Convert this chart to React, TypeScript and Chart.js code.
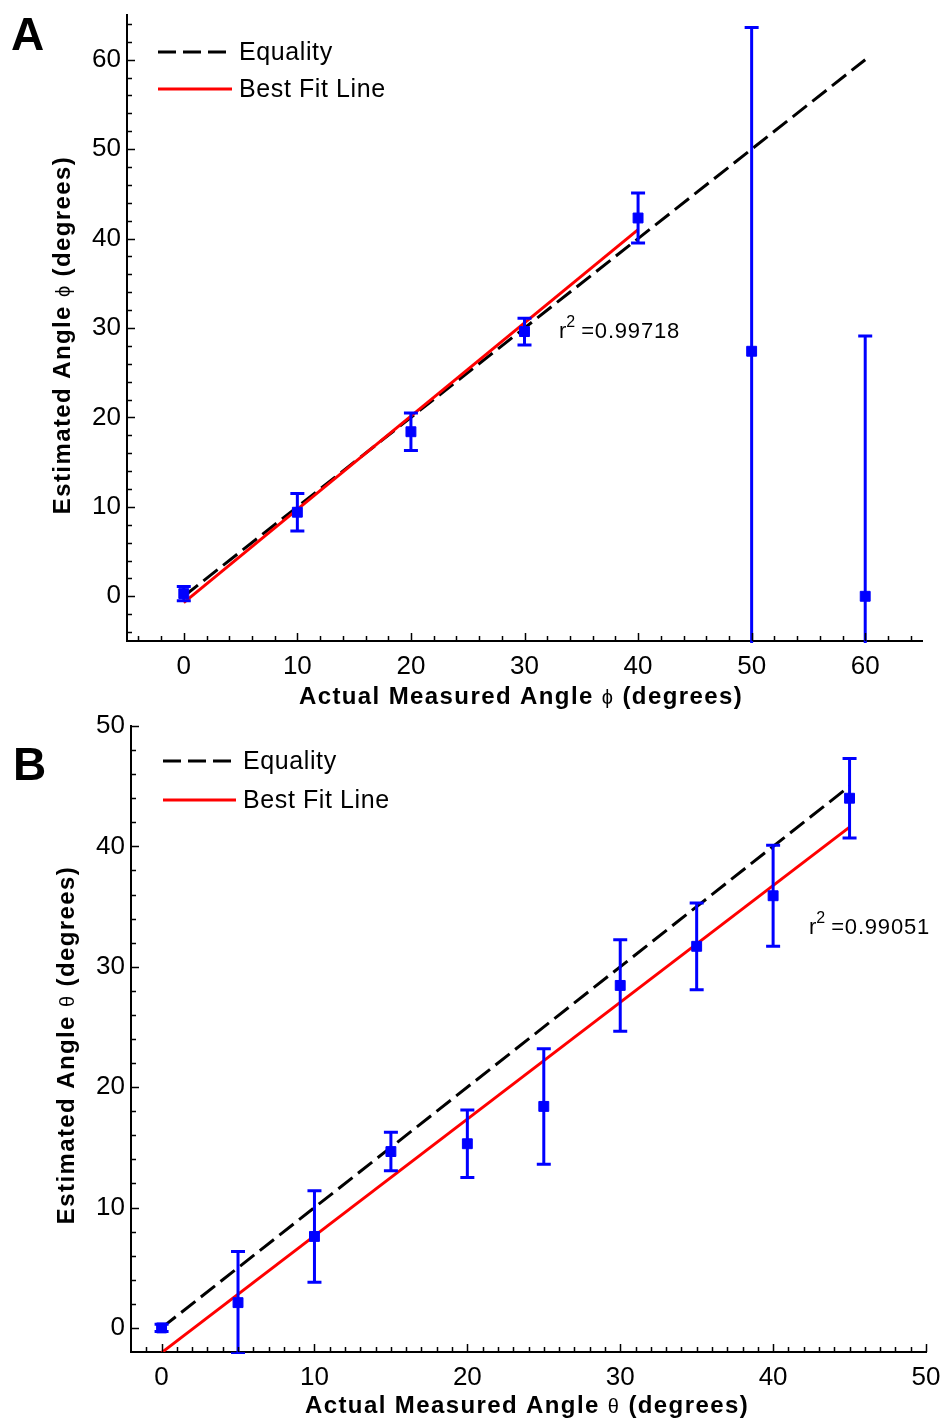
import React, { useEffect, useRef } from "react";
import { Chart, registerables } from "chart.js";

Chart.register(...registerables);

const FONT = "'Liberation Sans', Arial, Helvetica, sans-serif";

// ---------- Panel A data ----------
const aActual = [0, 10, 20, 30, 40, 50, 60];
const aEstimated = [0.3, 9.4, 18.4, 29.6, 42.3, 27.4, 0];
const aError = [0.8, 2.1, 2.1, 1.5, 2.8, 36.2, 29.1];
const aEqualityX = [0, 60];
const aEqualityY = [0, 60];
const aFitX = [0, 40];
const aFitY = [-0.7, 41.0];
const aXTicks = [0, 10, 20, 30, 40, 50, 60];
const aYTicks = [0, 10, 20, 30, 40, 50, 60];
const aR2 = "0.99718";

// ---------- Panel B data ----------
const bActual = [0, 5, 10, 15, 20, 25, 30, 35, 40, 45];
const bEstimated = [0, 2.1, 7.6, 14.65, 15.3, 18.4, 28.45, 31.7, 35.9, 44.0];
const bError = [0.3, 4.25, 3.8, 1.6, 2.8, 4.8, 3.8, 3.6, 4.2, 3.3];
const bEqualityX = [0, 45];
const bEqualityY = [0, 45];
const bFitX = [0, 45];
const bFitY = [-2.05, 41.6];
const bXTicks = [0, 10, 20, 30, 40, 50];
const bYTicks = [0, 10, 20, 30, 40, 50];
const bR2 = "0.99051";

type Seg = { text: string; font: string };

type Panel = {
  letter: string;
  xs: number[];
  ys: number[];
  errs: number[];
  eqX: number[];
  eqY: number[];
  fitX: number[];
  fitY: number[];
  xMin: number;
  xMax: number;
  yMin: number;
  yMax: number;
  xTicks: number[];
  yTicks: number[];
  xMinorStep: number;
  yMinorStep: number;
  r2: string;
  sym: string;
  canvasTop: number;
  height: number;
  area: { left: number; right: number; top: number; bottom: number };
  letterPos: [number, number, number];
  legend: { x1: number; x2: number; tx: number; y1: number; y2: number };
  xTitle: [number, number];
  yTitle: [number, number];
  r2Pos: [number, number];
};

const W = 946;

const panels: Panel[] = [
  {
    letter: "A",
    xs: aActual,
    ys: aEstimated,
    errs: aError,
    eqX: aEqualityX,
    eqY: aEqualityY,
    fitX: aFitX,
    fitY: aFitY,
    xMin: -5,
    xMax: 65,
    yMin: -5,
    yMax: 65,
    xTicks: aXTicks,
    yTicks: aYTicks,
    xMinorStep: 2,
    yMinorStep: 2,
    r2: aR2,
    sym: "\u03D5",
    canvasTop: 0,
    height: 712,
    area: { left: 127, right: 922, top: 15, bottom: 641 },
    letterPos: [11, 50, 46],
    legend: { x1: 158, x2: 232, tx: 239, y1: 52, y2: 89 },
    xTitle: [521, 704],
    yTitle: [70, 335],
    r2Pos: [559, 338],
  },
  {
    letter: "B",
    xs: bActual,
    ys: bEstimated,
    errs: bError,
    eqX: bEqualityX,
    eqY: bEqualityY,
    fitX: bFitX,
    fitY: bFitY,
    xMin: -2,
    xMax: 50,
    yMin: -2,
    yMax: 50,
    xTicks: bXTicks,
    yTicks: bYTicks,
    xMinorStep: 1,
    yMinorStep: 2,
    r2: bR2,
    sym: "\u03B8",
    canvasTop: 712,
    height: 713,
    area: { left: 131, right: 926, top: 14, bottom: 640 },
    letterPos: [13, 68, 46],
    legend: { x1: 163, x2: 236, tx: 243, y1: 49, y2: 88 },
    xTitle: [527, 701],
    yTitle: [74, 333],
    r2Pos: [809, 222],
  },
];

function minorValues(min: number, max: number, step: number): number[] {
  const out: number[] = [];
  const start = Math.ceil(min / step) * step;
  for (let v = start; v <= max + 1e-9; v += step) out.push(Math.round(v * 1000) / 1000);
  return out;
}

function drawSegs(ctx: CanvasRenderingContext2D, segs: Seg[], cx: number, y: number, spacing: string) {
  (ctx as any).letterSpacing = spacing;
  const widths = segs.map((s) => {
    ctx.font = s.font;
    return ctx.measureText(s.text).width;
  });
  const total = widths.reduce((a, b) => a + b, 0);
  let x = cx - total / 2;
  ctx.textAlign = "left";
  ctx.textBaseline = "alphabetic";
  segs.forEach((s, i) => {
    ctx.font = s.font;
    ctx.fillText(s.text, x, y);
    x += widths[i];
  });
  (ctx as any).letterSpacing = "0px";
}

function makePlugin(p: Panel) {
  return {
    id: "decor" + p.letter,
    afterDatasetsDraw(chart: any) {
      const ctx: CanvasRenderingContext2D = chart.ctx;
      const xs = chart.scales.x;
      const ys = chart.scales.y;
      const ca = chart.chartArea;
      ctx.save();
      ctx.beginPath();
      ctx.rect(ca.left, ca.top - 4, ca.right - ca.left, ca.bottom - ca.top + 6);
      ctx.clip();
      ctx.strokeStyle = "#0000ff";
      ctx.lineWidth = 3;
      p.xs.forEach((xv, i) => {
        const px = xs.getPixelForValue(xv);
        const top = ys.getPixelForValue(p.ys[i] + p.errs[i]);
        const bot = ys.getPixelForValue(p.ys[i] - p.errs[i]);
        ctx.beginPath();
        ctx.moveTo(px, top);
        ctx.lineTo(px, bot);
        ctx.moveTo(px - 7, top);
        ctx.lineTo(px + 7, top);
        ctx.moveTo(px - 7, bot);
        ctx.lineTo(px + 7, bot);
        ctx.stroke();
      });
      ctx.restore();
    },
    afterDraw(chart: any) {
      const ctx: CanvasRenderingContext2D = chart.ctx;
      const xs = chart.scales.x;
      const ys = chart.scales.y;
      const ca = chart.chartArea;
      ctx.save();
      ctx.strokeStyle = "#000";
      ctx.lineWidth = 1.5;
      ctx.beginPath();
      minorValues(p.xMin, p.xMax, p.xMinorStep).forEach((v) => {
        const px = Math.round(xs.getPixelForValue(v)) + 0.5;
        if (px < ca.left + 2 || px > ca.right + 1) return;
        const len = p.xTicks.includes(v) ? 8 : 5;
        ctx.moveTo(px, ca.bottom);
        ctx.lineTo(px, ca.bottom - len);
      });
      minorValues(p.yMin, p.yMax, p.yMinorStep).forEach((v) => {
        const py = Math.round(ys.getPixelForValue(v)) + 0.5;
        if (py > ca.bottom - 2 || py < ca.top - 1) return;
        const len = p.yTicks.includes(v) ? 8 : 5;
        ctx.moveTo(ca.left, py);
        ctx.lineTo(ca.left + len, py);
      });
      ctx.stroke();

      ctx.fillStyle = "#000";
      ctx.font = `bold ${p.letterPos[2]}px ${FONT}`;
      ctx.textAlign = "left";
      ctx.textBaseline = "alphabetic";
      ctx.fillText(p.letter, p.letterPos[0], p.letterPos[1]);

      const L = p.legend;
      ctx.lineWidth = 3;
      ctx.strokeStyle = "#000";
      ctx.setLineDash([18, 7]);
      ctx.beginPath();
      ctx.moveTo(L.x1, L.y1);
      ctx.lineTo(L.x2, L.y1);
      ctx.stroke();
      ctx.setLineDash([]);
      ctx.strokeStyle = "#ff0000";
      ctx.beginPath();
      ctx.moveTo(L.x1, L.y2);
      ctx.lineTo(L.x2, L.y2);
      ctx.stroke();
      ctx.font = `25px ${FONT}`;
      ctx.textBaseline = "middle";
      (ctx as any).letterSpacing = "0.6px";
      ctx.fillText(chart.data.datasets[2].label, L.tx, L.y1 + 1);
      ctx.fillText(chart.data.datasets[1].label, L.tx, L.y2 + 1);
      (ctx as any).letterSpacing = "0px";

      ctx.textBaseline = "alphabetic";
      ctx.font = `22px ${FONT}`;
      let rx = p.r2Pos[0];
      ctx.fillText("r", rx, p.r2Pos[1]);
      rx += ctx.measureText("r").width;
      ctx.font = `16px ${FONT}`;
      ctx.fillText("2", rx, p.r2Pos[1] - 11);
      rx += ctx.measureText("2").width + 6;
      ctx.font = `22px ${FONT}`;
      (ctx as any).letterSpacing = "0.8px";
      ctx.fillText("=" + p.r2, rx, p.r2Pos[1]);
      (ctx as any).letterSpacing = "0px";

      const bold = `bold 24px ${FONT}`;
      const sym = `20px ${FONT}`;
      drawSegs(
        ctx,
        [
          { text: "Actual Measured Angle ", font: bold },
          { text: p.sym, font: sym },
          { text: " (degrees)", font: bold },
        ],
        p.xTitle[0],
        p.xTitle[1],
        "1.4px"
      );
      ctx.save();
      ctx.translate(p.yTitle[0], p.yTitle[1]);
      ctx.rotate(-Math.PI / 2);
      drawSegs(
        ctx,
        [
          { text: "Estimated Angle ", font: bold },
          { text: p.sym, font: sym },
          { text: " (degrees)", font: bold },
        ],
        0,
        0,
        "1.4px"
      );
      ctx.restore();
      ctx.restore();
    },
  };
}

function PanelChart({ p }: { p: Panel }) {
  const ref = useRef<HTMLCanvasElement | null>(null);
  useEffect(() => {
    if (!ref.current) return;
    const tickFont = { family: FONT, size: 26 };
    const zeroPad = (s: any) => {
      s.paddingTop = 0;
      s.paddingBottom = 0;
      s.paddingLeft = 0;
      s.paddingRight = 0;
    };
    const chart = new Chart(ref.current, {
      type: "scatter",
      data: {
        datasets: [
          {
            label: "Data",
            data: p.xs.map((x, i) => ({ x, y: p.ys[i] })),
            pointStyle: "rect",
            pointRadius: 7,
            backgroundColor: "#0000ff",
            borderColor: "#0000ff",
            borderWidth: 1,
            showLine: false,
            order: 0,
          },
          {
            label: "Best Fit Line",
            data: p.fitX.map((x, i) => ({ x, y: p.fitY[i] })),
            showLine: true,
            borderColor: "#ff0000",
            borderWidth: 3,
            pointRadius: 0,
            order: 1,
          },
          {
            label: "Equality",
            data: p.eqX.map((x, i) => ({ x, y: p.eqY[i] })),
            showLine: true,
            borderColor: "#000000",
            borderWidth: 3,
            borderDash: [18, 7],
            pointRadius: 0,
            order: 2,
          },
        ],
      },
      options: {
        responsive: false,
        animation: false,
        devicePixelRatio: 1,
        events: [],
        layout: {
          padding: {
            left: 0,
            top: p.area.top,
            right: W - p.area.right,
            bottom: 0,
          },
        },
        plugins: {
          legend: { display: false },
          tooltip: { enabled: false },
        },
        scales: {
          x: {
            type: "linear",
            min: p.xMin,
            max: p.xMax,
            afterBuildTicks: (s: any) => {
              s.ticks = p.xTicks.map((v) => ({ value: v }));
            },
            afterFit: (s: any) => {
              s.height = p.height - p.area.bottom;
              zeroPad(s);
            },
            grid: { display: false, drawTicks: false },
            border: { display: true, color: "#000", width: 2 },
            ticks: {
              font: tickFont,
              color: "#000",
              padding: 10,
              maxRotation: 0,
              autoSkip: false,
            },
          },
          y: {
            type: "linear",
            min: p.yMin,
            max: p.yMax,
            afterBuildTicks: (s: any) => {
              s.ticks = p.yTicks.map((v) => ({ value: v }));
            },
            afterFit: (s: any) => {
              s.width = p.area.left;
              zeroPad(s);
            },
            grid: { display: false, drawTicks: false },
            border: { display: true, color: "#000", width: 2 },
            ticks: {
              font: tickFont,
              color: "#000",
              padding: 6,
              autoSkip: false,
            },
          },
        },
      },
      plugins: [makePlugin(p)],
    } as any);
    return () => chart.destroy();
  }, [p]);
  return (
    <canvas
      ref={ref}
      width={W}
      height={p.height}
      style={{ position: "absolute", left: 0, top: p.canvasTop, width: W, height: p.height }}
    />
  );
}

export default function App() {
  return (
    <div style={{ position: "absolute", left: 0, top: 0, width: W, height: 1425, background: "#fff" }}>
      {panels.map((p) => (
        <PanelChart key={p.letter} p={p} />
      ))}
    </div>
  );
}
